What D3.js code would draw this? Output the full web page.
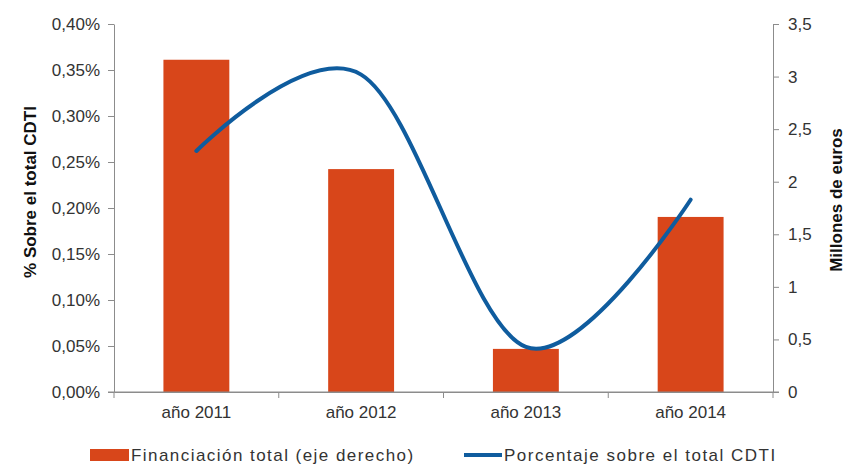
<!DOCTYPE html>
<html><head><meta charset="utf-8">
<script src="https://cdn.jsdelivr.net/npm/d3@7"></script>
<style>
body{margin:0;background:#fff;}
svg{display:block;font-family:"Liberation Sans",Arial,sans-serif;}
</style></head>
<body><svg id="c" width="846" height="466"></svg>
<script>
const categories = ["año 2011","año 2012","año 2013","año 2014"];
const financiacion = [3.16, 2.12, 0.41, 1.665];      // Millones de euros (eje derecho)
const porcentaje = [0.262, 0.345, 0.049, 0.209];     // % sobre el total CDTI
const leftTicks = [0,0.05,0.10,0.15,0.20,0.25,0.30,0.35,0.40];
const rightTicks = [0,0.5,1,1.5,2,2.5,3,3.5];
const legendLabels = ["Financiación total (eje derecho)","Porcentaje sobre el total CDTI"];

const svg = d3.select("#c");
const L = 114, R = 773, T = 24, B = 392;
const axisColor = "#8c8c8c";
const barColor = "#D8461A";
const lineColor = "#0F5C9E";

const x = d3.scaleBand().domain(categories).range([L, R]).padding(0);
const yL = d3.scaleLinear().domain([0,0.40]).range([B, T]);
const yR = d3.scaleLinear().domain([0,3.5]).range([B, T]);

const fmtPct = d => d.toFixed(2).replace(".", ",") + "%";
const fmtR = d => String(d).replace(".", ",");

// bars
const bw = x.bandwidth() / 2.5;
svg.append("g").selectAll("rect").data(categories).join("rect")
  .attr("x", (d) => x(d) + x.bandwidth()/2 - bw/2)
  .attr("y", (d,i) => yR(financiacion[i]))
  .attr("width", bw)
  .attr("height", (d,i) => B - yR(financiacion[i]))
  .attr("fill", barColor);

// left axis
const gL = svg.append("g").attr("transform", `translate(${L},0)`)
  .call(d3.axisLeft(yL).tickValues(leftTicks).tickFormat(fmtPct).tickSize(6).tickSizeOuter(0));
// right axis
const gR = svg.append("g").attr("transform", `translate(${R},0)`)
  .call(d3.axisRight(yR).tickValues(rightTicks).tickFormat(fmtR).tickSize(6).tickSizeOuter(0));
// bottom axis
const gB = svg.append("g").attr("transform", `translate(0,${B})`)
  .call(d3.axisBottom(x).tickSize(0).tickSizeOuter(0));
// boundary ticks on x axis
const bounds = categories.map(c => x(c)).concat([R]);
svg.append("g").selectAll("line").data(bounds).join("line")
  .attr("x1", d => d).attr("x2", d => d).attr("y1", B).attr("y2", B + 6)
  .attr("stroke", axisColor);
svg.append("line").attr("x1", L - 6).attr("x2", R + 6).attr("y1", B).attr("y2", B).attr("stroke", axisColor);

[gL, gR, gB].forEach(g => {
  g.selectAll(".domain").attr("stroke", axisColor);
  g.selectAll(".tick line").attr("stroke", axisColor);
  g.selectAll("text").attr("fill", "#333").style("font-size", "17px");
});
gL.selectAll("text").attr("x", -14);
gR.selectAll("text").attr("x", 15);
gB.selectAll("text").attr("dy", "0").attr("y", 26);

// line
const line = d3.line()
  .x((d,i) => x(categories[i]) + x.bandwidth()/2)
  .y(d => yL(d))
  .curve(d3.curveCardinal.tension(0));
svg.append("path").datum(porcentaje)
  .attr("d", line).attr("fill", "none")
  .attr("stroke", lineColor).attr("stroke-width", 4).attr("stroke-linecap", "round");

// axis titles
svg.append("text").attr("transform", "translate(36,192) rotate(-90)")
  .attr("text-anchor", "middle").style("font-size", "17px").style("font-weight", "bold")
  .attr("fill", "#111").text("% Sobre el total CDTI");
svg.append("text").attr("transform", "translate(842,200) rotate(-90)")
  .attr("text-anchor", "middle").style("font-size", "17px").style("font-weight", "bold")
  .attr("fill", "#111").text("Millones de euros");

// legend
const lg = svg.append("g");
lg.append("rect").attr("x", 90).attr("y", 449).attr("width", 39).attr("height", 12).attr("fill", barColor);
lg.append("text").attr("x", 131).attr("y", 461).style("font-size", "17px").style("letter-spacing", "1.45px")
  .attr("fill", "#333").text(legendLabels[0]);
lg.append("line").attr("x1", 464).attr("x2", 502).attr("y1", 455).attr("y2", 455)
  .attr("stroke", lineColor).attr("stroke-width", 4);
lg.append("text").attr("x", 504).attr("y", 461).style("font-size", "17px").style("letter-spacing", "1.5px")
  .attr("fill", "#333").text(legendLabels[1]);
</script></body></html>
